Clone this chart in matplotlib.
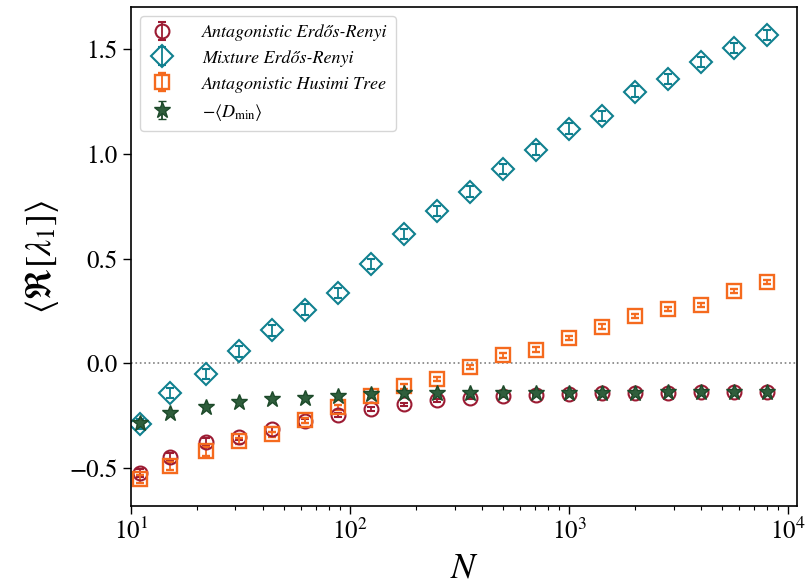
import numpy as np
import matplotlib
matplotlib.use('Agg')
import matplotlib.pyplot as plt

plt.rcParams['font.family'] = ['STIXGeneral', 'DejaVu Serif']
plt.rcParams['mathtext.fontset'] = 'stix'

# === data ===
N = [11, 15, 22, 31, 44, 62, 88, 125, 177, 250, 354, 500, 707,
     1000, 1414, 2000, 2828, 4000, 5657, 8000]

er_antag = [-0.522, -0.446, -0.375, -0.351, -0.313, -0.275, -0.247, -0.218,
            -0.195, -0.176, -0.166, -0.157, -0.152, -0.147, -0.142, -0.142,
            -0.142, -0.138, -0.138, -0.138]
er_antag_err = [0.02, 0.02, 0.018, 0.015, 0.012, 0.01, 0.01, 0.008, 0.008,
                0.006, 0.006, 0.005, 0.005, 0.004, 0.004, 0.004, 0.003,
                0.003, 0.003, 0.003]

er_mix = [-0.29, -0.14, -0.05, 0.057, 0.157, 0.257, 0.337, 0.475, 0.617,
          0.726, 0.82, 0.927, 1.02, 1.12, 1.18, 1.296, 1.357, 1.438, 1.504,
          1.566]
er_mix_err = [0.025] * 20

husimi = [-0.55, -0.49, -0.42, -0.37, -0.337, -0.27, -0.21, -0.157, -0.11,
          -0.076, -0.019, 0.038, 0.066, 0.123, 0.176, 0.228, 0.261, 0.28,
          0.346, 0.389]
husimi_err = [0.02, 0.02, 0.02, 0.015, 0.012, 0.012, 0.01, 0.01, 0.01,
              0.01, 0.01, 0.01, 0.01, 0.01, 0.01, 0.01, 0.01, 0.01, 0.01,
              0.01]

dmin = [-0.285, -0.237, -0.209, -0.185, -0.171, -0.166, -0.157, -0.147,
        -0.142, -0.142, -0.141, -0.140, -0.140, -0.139, -0.139, -0.139,
        -0.138, -0.138, -0.138, -0.138]
dmin_err = [0.008, 0.006, 0.005, 0.004, 0.004, 0.004, 0.003, 0.003, 0.003,
            0.003, 0.003, 0.003, 0.003, 0.003, 0.003, 0.003, 0.003, 0.003,
            0.003, 0.003]

fig = plt.figure(figsize=(8.06, 5.84), dpi=100)
ax = fig.add_axes([0.1625, 0.1336, 0.8265, 0.8544])

ax.axhline(0, color='gray', linestyle=':', linewidth=1.2, zorder=0)

ax.errorbar(N, er_antag, yerr=er_antag_err, fmt='o', ms=10, mfc='none',
            mec='#9c1b33', mew=1.5, color='#9c1b33', ecolor='#9c1b33',
            elinewidth=1.3, capsize=3, label='Antagonistic Erdős-Renyi')
ax.errorbar(N, er_mix, yerr=er_mix_err, fmt='D', ms=11, mfc='none',
            mec='#10808f', mew=1.5, color='#10808f', ecolor='#10808f',
            elinewidth=1.3, capsize=3, label='Mixture Erdős-Renyi')
ax.errorbar(N, husimi, yerr=husimi_err, fmt='s', ms=10, mfc='none',
            mec='#f56a1e', mew=1.7, color='#f56a1e', ecolor='#f56a1e',
            elinewidth=1.3, capsize=3, label='Antagonistic Husimi Tree')
ax.errorbar(N, dmin, yerr=dmin_err, fmt='*', ms=12, mfc='#2f5e3c',
            mec='#1d4a2a', mew=1.0, color='#1d4a2a', ecolor='#1d4a2a',
            elinewidth=1.3, capsize=3, label=r'$-\langle D_{\rm min}\rangle$')

ax.set_xscale('log')
ax.set_xlim(10, 1.1e4)
ax.set_ylim(-0.68, 1.7)
ax.set_yticks([-0.5, 0.0, 0.5, 1.0, 1.5])

ax.tick_params(axis='both', which='major', labelsize=18, length=6, width=1)
ax.tick_params(axis='both', which='minor', length=3, width=0.8)
for sp in ax.spines.values():
    sp.set_linewidth(1.2)

ax.set_xlabel(r'$N$', fontsize=26, labelpad=5)
ax.set_ylabel(r'$\langle \Re[\lambda_1] \rangle$', fontsize=26, labelpad=6)

leg = ax.legend(loc='upper left', prop={'style': 'italic', 'size': 13},
                frameon=True, borderpad=0.45, handletextpad=1.5,
                labelspacing=0.5, handlelength=1.5)
leg.get_frame().set_edgecolor('#cccccc')

plt.savefig('out.png', dpi=100)
